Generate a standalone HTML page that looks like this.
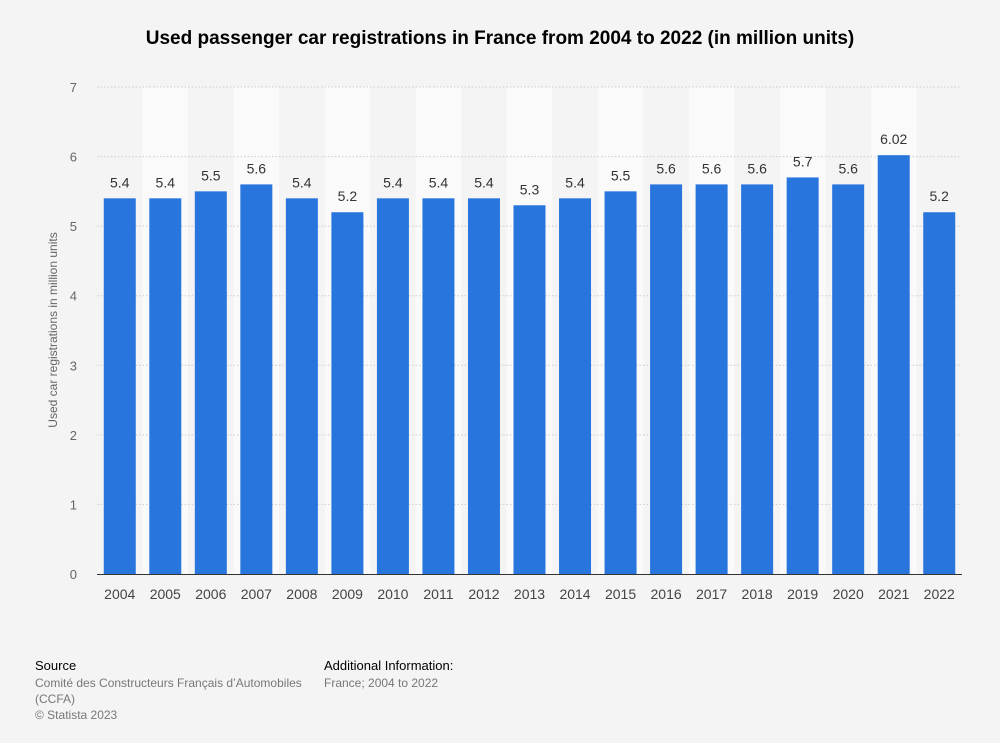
<!DOCTYPE html>
<html><head><meta charset="utf-8"><style>
body{margin:0;background:#f4f4f4;font-family:"Liberation Sans",sans-serif;}
svg{display:block}
</style></head><body>
<svg id="c" width="1000" height="743">
<rect width="1000" height="743" fill="#f4f4f4"/>
<text x="500" y="44" text-anchor="middle" font-size="19" font-weight="bold" fill="#000">Used passenger car registrations in France from 2004 to 2022 (in million units)</text>
<g id="bands"></g><g id="grid"></g><g id="bars"></g><g id="labels"></g>
<text transform="translate(57,330) rotate(-90)" text-anchor="middle" font-size="12" fill="#666">Used car registrations in million units</text>
<text x="35" y="670" font-size="13" fill="#000">Source</text>
<text x="35" y="687" font-size="12" fill="#777">Comité des Constructeurs Français d’Automobiles</text>
<text x="35" y="703" font-size="12" fill="#777">(CCFA)</text>
<text x="35" y="719" font-size="12" fill="#777">© Statista 2023</text>
<text x="324" y="670" font-size="13" fill="#000">Additional Information:</text>
<text x="324" y="687" font-size="12" fill="#777">France; 2004 to 2022</text>
</svg>
<script>
const categories=["2004","2005","2006","2007","2008","2009","2010","2011","2012","2013","2014","2015","2016","2017","2018","2019","2020","2021","2022"];
const values=[5.4,5.4,5.5,5.6,5.4,5.2,5.4,5.4,5.4,5.3,5.4,5.5,5.6,5.6,5.6,5.7,5.6,6.02,5.2];
const valueLabels=["5.4","5.4","5.5","5.6","5.4","5.2","5.4","5.4","5.4","5.3","5.4","5.5","5.6","5.6","5.6","5.7","5.6","6.02","5.2"];
const yTicks=[0,1,2,3,4,5,6,7];
const NS="http://www.w3.org/2000/svg";
const X0=97,X1=962,Y0=574,Y1=87,YMAX=7;
const bw=(X1-X0)/categories.length;
const y=v=>Y0-(v/YMAX)*(Y0-Y1);
const x=i=>X0+i*bw;
function mk(t,a,p){const e=document.createElementNS(NS,t);for(const k in a)e.setAttribute(k,a[k]);p.appendChild(e);return e;}
const bands=document.getElementById('bands'),grid=document.getElementById('grid'),bars=document.getElementById('bars'),labels=document.getElementById('labels');
categories.forEach((c,i)=>{if(i%2==1){const r=mk('rect',{x:x(i),y:Y1,width:bw,height:Y0-Y1,fill:'#fafafa'},bands);

}});
yTicks.forEach(t=>{
 if(t>0){const l=mk('line',{x1:X0,x2:X1,y1:y(t),y2:y(t),stroke:'#ccc','stroke-dasharray':'1.5,2'},grid);
 
 }
 const tx=mk('text',{x:77,y:y(t)+5,'text-anchor':'end','font-size':13,fill:'#666'},labels);tx.textContent=t;
 
 
});
const ax=mk('line',{x1:X0,x2:X1,y1:Y0+0.5,y2:Y0+0.5,stroke:'#333','stroke-width':1},grid);


categories.forEach((c,i)=>{
 const cx=x(i)+bw/2,w=32;
 const r=mk('rect',{x:cx-w/2,y:y(values[i]),width:w,height:Y0-y(values[i]),fill:'#2876dd'},bars);
 
 
 const v=mk('text',{x:cx,y:y(values[i])-11,'text-anchor':'middle','font-size':14,fill:'#333'},labels);v.textContent=valueLabels[i];
 
 
 const t=mk('text',{x:cx,y:599,'text-anchor':'middle','font-size':14,fill:'#444'},labels);t.textContent=c;
 
 
});
</script>
</body></html>
